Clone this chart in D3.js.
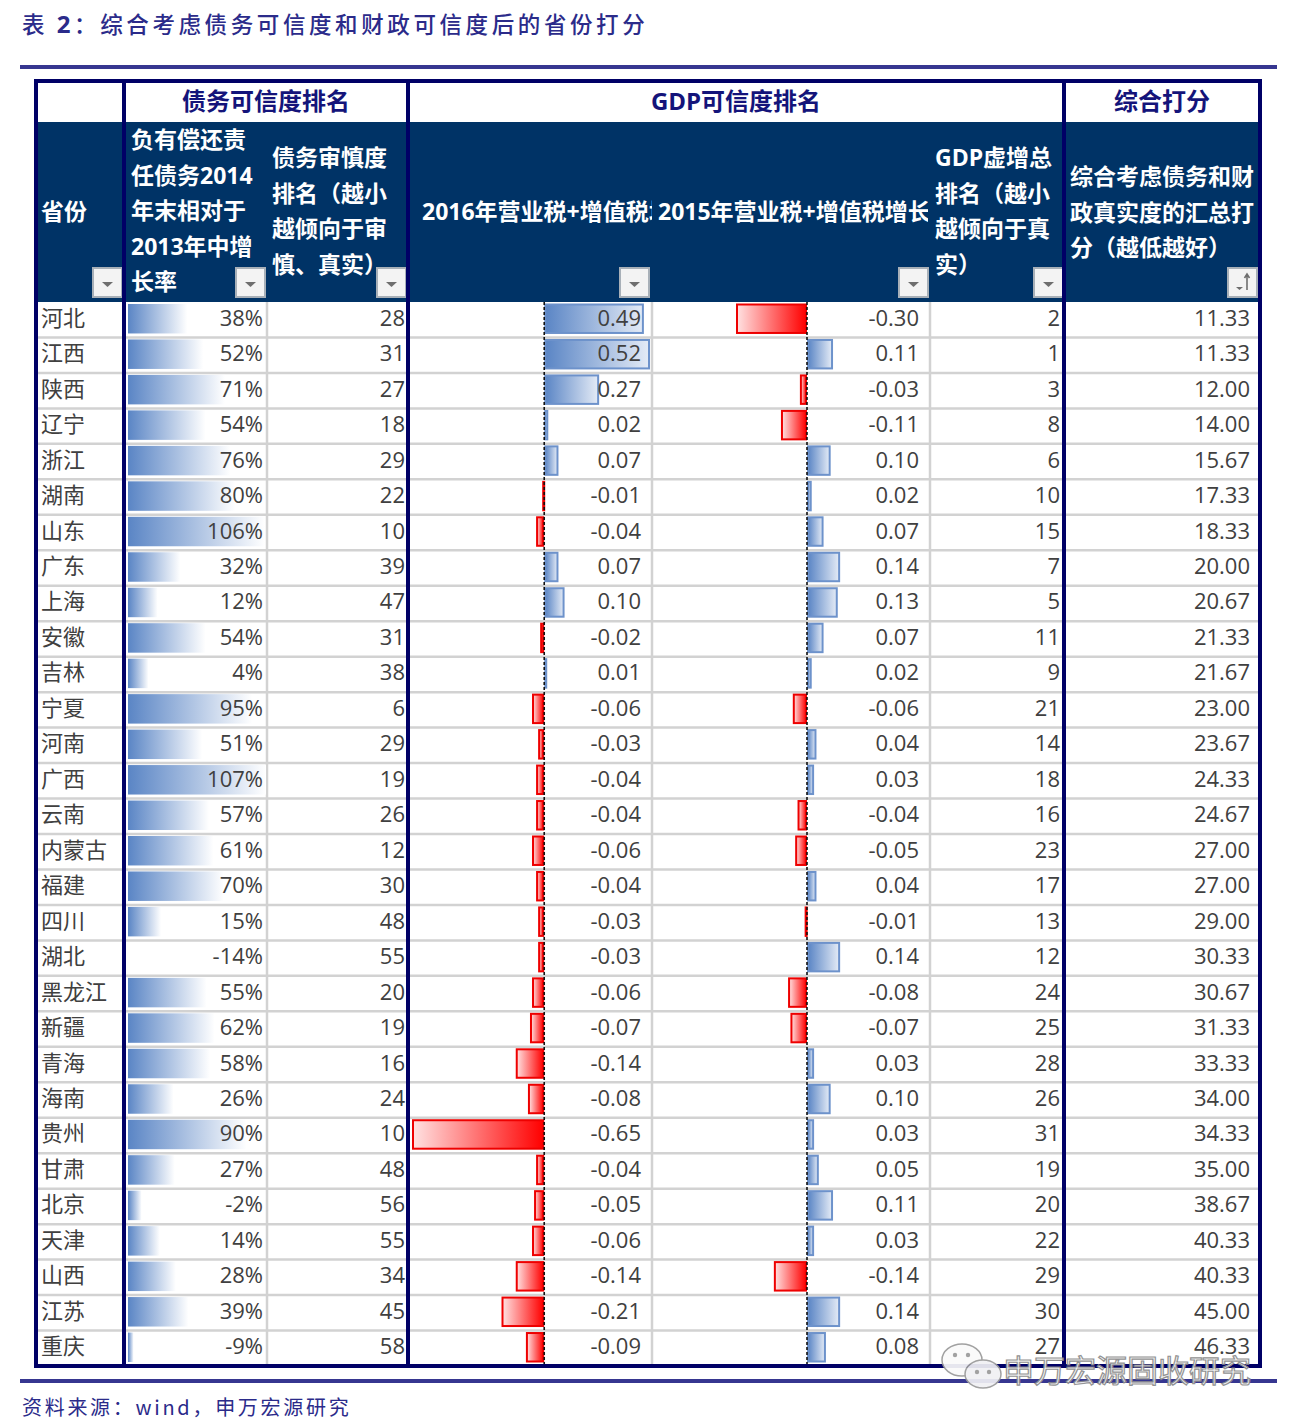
<!DOCTYPE html>
<html><head><meta charset="utf-8">
<script src="https://cdn.jsdelivr.net/npm/d3@7"></script>
<style>
html,body{margin:0;padding:0;background:#fff;}
svg{display:block;}
</style></head>
<body>
<svg id="chart" width="1299" height="1428"></svg>
<script>
const provinces = ["河北","江西","陕西","辽宁","浙江","湖南","山东","广东","上海","安徽","吉林","宁夏","河南","广西","云南","内蒙古","福建","四川","湖北","黑龙江","新疆","青海","海南","贵州","甘肃","北京","天津","山西","江苏","重庆"];
const debtGrowth = [38,52,71,54,76,80,106,32,12,54,4,95,51,107,57,61,70,15,-14,55,62,58,26,90,27,-2,14,28,39,-9];
const debtRank = [28,31,27,18,29,22,10,39,47,31,38,6,29,19,26,12,30,48,55,20,19,16,24,10,48,56,55,34,45,58];
const tax2016 = [0.49,0.52,0.27,0.02,0.07,-0.01,-0.04,0.07,0.10,-0.02,0.01,-0.06,-0.03,-0.04,-0.04,-0.06,-0.04,-0.03,-0.03,-0.06,-0.07,-0.14,-0.08,-0.65,-0.04,-0.05,-0.06,-0.14,-0.21,-0.09];
const tax2015 = [-0.30,0.11,-0.03,-0.11,0.10,0.02,0.07,0.14,0.13,0.07,0.02,-0.06,0.04,0.03,-0.04,-0.05,0.04,-0.01,0.14,-0.08,-0.07,0.03,0.10,0.03,0.05,0.11,0.03,-0.14,0.14,0.08];
const gdpRank = [2,1,3,8,6,10,15,7,5,11,9,21,14,18,16,23,17,13,12,24,25,28,26,31,19,20,22,29,30,27];
const score = [11.33,11.33,12.00,14.00,15.67,17.33,18.33,20.00,20.67,21.33,21.67,23.00,23.67,24.33,24.67,27.00,27.00,29.00,30.33,30.67,31.33,33.33,34.00,34.33,35.00,38.67,40.33,40.33,45.00,46.33];

const title = "表 2：综合考虑债务可信度和财政可信度后的省份打分";
const source = "资料来源：wind，申万宏源研究";
const groupHeaders = ["债务可信度排名","GDP可信度排名","综合打分"];
const colHeaders = [
  ["省份"],
  ["负有偿还责","任债务2014","年末相对于","2013年中增","长率"],
  ["债务审慎度","排名（越小","越倾向于审","慎、真实）"],
  ["2016年营业税+增值税增长率"],
  ["2015年营业税+增值税增长率"],
  ["GDP虚增总","排名（越小","越倾向于真","实）"],
  ["综合考虑债务和财","政真实度的汇总打","分（越低越好）"]
];
const watermark = "申万宏源固收研究";

(function(){
const svg = d3.select("#chart");
const NAVY = "#000066", HEAD = "#003366", GRID = "#d2d2d2", TXT = "#404040";
const FONT = "'Open Sans','Noto Sans CJK SC',sans-serif";
const CJK = "'Noto Sans CJK SC','Noto Sans',sans-serif";

const cols = [36,124,267,408,652,930,1064,1260];
const tableTop = 81, hdr1 = 122, dataTop = 302, dataBot = 1366;

const defs = svg.append("defs");
function grad(id, c1, c2){
  const g = defs.append("linearGradient").attr("id", id).attr("x1","0").attr("x2","1").attr("y1","0").attr("y2","0");
  g.append("stop").attr("offset","0").attr("stop-color",c1);
  g.append("stop").attr("offset","1").attr("stop-color",c2);
}
grad("gDebt","#5a85c5","#ffffff");
grad("gBlue","#5a85c5","#e4ebf6");
grad("gRed","#ffe2e2","#ff0000");
defs.append("clipPath").attr("id","clip16").append("rect").attr("x",408).attr("y",hdr1).attr("width",244).attr("height",180);
defs.append("clipPath").attr("id","clip15").append("rect").attr("x",652).attr("y",hdr1).attr("width",276).attr("height",180);

const tt = svg.append("text").attr("x",22).attr("y",33).attr("font-family",CJK).attr("font-size",22.5)
  .attr("letter-spacing",3.6).attr("fill","#2b2b8a").attr("font-weight",500);
tt.append("tspan").text(title.slice(0,2));
tt.append("tspan").attr("font-weight",700).attr("font-family",FONT).attr("font-size",24).text(title.slice(2,3));
tt.append("tspan").text(title.slice(3));
svg.append("rect").attr("x",20).attr("y",65).attr("width",1257).attr("height",4).attr("fill","#363690");
svg.append("rect").attr("x",20).attr("y",1379).attr("width",1257).attr("height",4).attr("fill","#363690");
svg.append("text").attr("x",22).attr("y",1415).attr("font-family",CJK).attr("font-size",20)
  .attr("letter-spacing",2.7).attr("fill","#2b2b8a").text(source);

svg.append("rect").attr("x",cols[0]).attr("y",hdr1).attr("width",cols[7]-cols[0]).attr("height",dataTop-hdr1).attr("fill",HEAD);

const groupCenters = [(cols[1]+cols[3])/2,(cols[3]+cols[6])/2,(cols[6]+cols[7])/2];
groupHeaders.forEach((t,i)=>{
  svg.append("text").attr("x",groupCenters[i]).attr("y",110).attr("text-anchor","middle")
    .attr("font-family",FONT).attr("font-weight",700).attr("font-size",24).attr("fill","#14147a").text(t);
});

const lh = 35.5;
const hdrStart = [[41,212],[131,140],[272,158],[422,212],[658,212],[935,158],[1070,177]];
colHeaders.forEach((lines,i)=>{
  const t = svg.append("text").attr("font-family",FONT).attr("font-weight",700).attr("font-size",23).attr("fill","#ffffff");
  if(i===3) t.attr("clip-path","url(#clip16)");
  if(i===4) t.attr("clip-path","url(#clip15)");
  lines.forEach((l,j)=>{
    t.append("tspan").attr("x",hdrStart[i][0]).attr("y",hdrStart[i][1]+8+j*lh).text(l);
  });
});

const btnX = [93,236,377,620,899,1034,1228];
btnX.forEach((bx,i)=>{
  svg.append("rect").attr("x",bx).attr("y",268).attr("width",29).attr("height",29)
    .attr("fill","#f3f3f3").attr("stroke","#a8b0b8").attr("stroke-width",2);
  if(i<6){
    svg.append("path").attr("d",`M${bx+9},282l11,0l-5.5,5z`).attr("fill","#6e6e6e");
  } else {
    svg.append("path").attr("d",`M${bx+8},287l7,0l-3.5,3z`).attr("fill","#6e6e6e");
    svg.append("path").attr("d",`M${bx+19},290l0,-15 M${bx+16.5},278l2.5,-4l2.5,4`).attr("stroke","#6e6e6e").attr("stroke-width",1.6).attr("fill","none");
  }
});

const y = d3.scaleBand().domain(provinces).range([dataTop, dataBot]);
const rh = y.bandwidth();
const xDebt = d3.scaleLinear().domain([d3.min(debtGrowth), d3.max(debtGrowth)]).range([128, 266]);
const x16 = d3.scaleLinear().domain([d3.min(tax2016), d3.max(tax2016)]).range([412, 650]);
const x15 = d3.scaleLinear().domain([d3.min(tax2015), 0]).range([736, 807]);

const gridG = svg.append("g");
provinces.forEach((p,i)=>{
  if(i>0) gridG.append("line").attr("x1",cols[0]).attr("x2",cols[7]).attr("y1",y(p)).attr("y2",y(p))
    .attr("stroke",GRID).attr("stroke-width",2.5);
});
[267,652,930].forEach(x=>{
  gridG.append("line").attr("x1",x).attr("x2",x).attr("y1",dataTop).attr("y2",dataBot).attr("stroke",GRID).attr("stroke-width",2.5);
});

svg.append("g").selectAll("rect").data(debtGrowth).join("rect")
  .attr("x",128).attr("y",(d,i)=>y(provinces[i])+2).attr("height",rh-6)
  .attr("width",d=>Math.max(0,xDebt(d)-128)).attr("fill","url(#gDebt)");

function taxBars(data, sc){
  svg.append("g").selectAll("rect").data(data).join("rect")
    .attr("x",d=>Math.min(sc(0),sc(d))+1).attr("y",(d,i)=>y(provinces[i])+2.5).attr("height",rh-7)
    .attr("width",d=>Math.max(1,Math.abs(sc(d)-sc(0))-2))
    .attr("fill",d=>d<0?"url(#gRed)":"url(#gBlue)")
    .attr("stroke",d=>d<0?"#ee0000":"#6d92cb").attr("stroke-width",2);
  svg.append("line").attr("x1",sc(0)).attr("x2",sc(0)).attr("y1",dataTop).attr("y2",dataBot)
    .attr("stroke","#111").attr("stroke-width",1.6).attr("stroke-dasharray","3,2");
}
taxBars(tax2016, x16);
taxBars(tax2015, x15);

const f2 = d=>d3.format(".2f")(d).replace("\u2212","-");
function colText(arr, x, fmt, anchor){
  svg.append("g").selectAll("text").data(arr).join("text")
    .attr("x",x).attr("y",(d,i)=>y(provinces[i])+rh/2+6)
    .attr("text-anchor",anchor||"end").attr("font-family",FONT).attr("font-size",22).attr("fill",TXT)
    .text(fmt);
}
colText(provinces, 41, d=>d, "start");
colText(debtGrowth, 263, d=>d+"%");
colText(debtRank, 405, d=>d);
colText(tax2016, 641, f2);
colText(tax2015, 919, f2);
colText(gdpRank, 1060, d=>d);
colText(score, 1250, f2);

const bw = 4;
svg.append("rect").attr("x",cols[0]).attr("y",tableTop).attr("width",cols[7]-cols[0]).attr("height",dataBot-tableTop)
  .attr("fill","none").attr("stroke",NAVY).attr("stroke-width",bw);
[cols[1],cols[3],cols[6]].forEach(x=>{
  svg.append("line").attr("x1",x).attr("x2",x).attr("y1",tableTop).attr("y2",dataBot).attr("stroke",NAVY).attr("stroke-width",bw);
});

const wm = svg.append("g").attr("opacity",0.92);
wm.append("ellipse").attr("cx",962).attr("cy",1360).attr("rx",20).attr("ry",16).attr("fill","#fafafa").attr("stroke","#9a9a9a").attr("stroke-width",1.5);
wm.append("ellipse").attr("cx",983).attr("cy",1374).attr("rx",18).attr("ry",14).attr("fill","#f0f0f4").attr("stroke","#9a9a9a").attr("stroke-width",1.5);
[[955,1355],[968,1355],[977,1372],[989,1372]].forEach(p=>wm.append("circle").attr("cx",p[0]).attr("cy",p[1]).attr("r",2.2).attr("fill","#9a9a9a"));
wm.append("text").attr("x",1003).attr("y",1382).attr("font-family",CJK).attr("font-size",31)
  .attr("fill","#f4f4f4").attr("stroke","#8a8a8a").attr("stroke-width",1.2).text(watermark);
})();
</script>
</body></html>
